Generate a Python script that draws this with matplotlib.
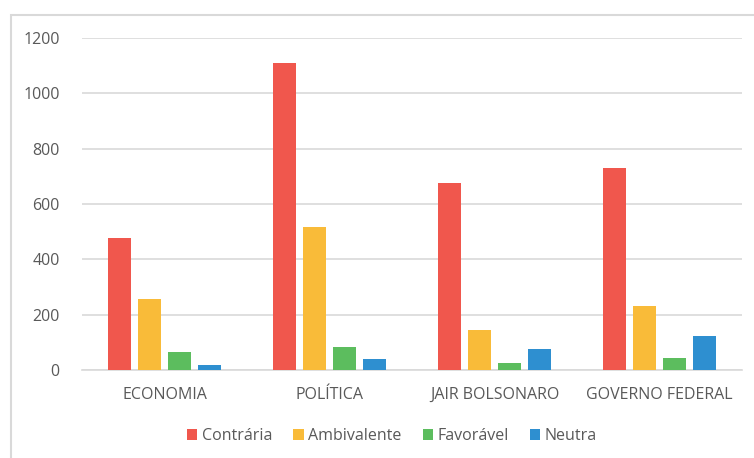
import numpy as np
import matplotlib
matplotlib.use('Agg')
import matplotlib.pyplot as plt
from matplotlib.patches import Rectangle

plt.rcParams['font.family'] = ['Open Sans', 'DejaVu Sans']

categorias = ['ECONOMIA', 'POLÍTICA', 'JAIR BOLSONARO', 'GOVERNO FEDERAL']
series = ['Contrária', 'Ambivalente', 'Favorável', 'Neutra']
contraria = [477, 1110, 677, 731]
ambivalente = [257, 517, 143, 231]
favoravel = [65, 83, 24, 42]
neutra = [18, 40, 75, 123]
cores = ['#f0574d', '#f9bb39', '#5cbd5e', '#2e8fd0']

W, H = 754, 458
fig = plt.figure(figsize=(W / 100, H / 100), dpi=100)
# moldura cinza clara
fig.patches.append(Rectangle((11 / W, -0.05), 1.2, 1 - 15 / H + 0.05,
                             transform=fig.transFigure, fill=False,
                             edgecolor='#d9d9d9', linewidth=1.5))

ax = fig.add_axes([82 / W, 1 - 370 / H, (742 - 82) / W, (370 - 38) / H])

x = np.arange(len(categorias))
passo = 30 / 165
larg = 23 / 165
valores = [contraria, ambivalente, favoravel, neutra]
for i, (nome, v) in enumerate(zip(series, valores)):
    ax.bar(x + (i - 1.5) * passo, v, width=larg, color=cores[i], label=nome, zorder=3)

ax.set_xlim(-0.5, 3.5)
ax.set_ylim(0, 1200)
ax.set_yticks(range(0, 1201, 200))
ax.grid(axis='y', color='#d9d9d9', linewidth=1.2, zorder=0)
for s in ['top', 'right', 'left']:
    ax.spines[s].set_visible(False)
ax.spines['bottom'].set_color('#d9d9d9')
ax.spines['bottom'].set_linewidth(1.2)
ax.tick_params(axis='both', length=0, colors='#595959', labelsize=11.5)
ax.tick_params(axis='y', pad=16)
ax.tick_params(axis='x', pad=12)
ax.set_xticks(x)
ax.set_xticklabels(categorias)

fig.legend(loc='center', bbox_to_anchor=(392 / W, 1 - 436 / H), ncol=4, frameon=False,
           fontsize=11.5, labelcolor='#595959', handlelength=0.65, handleheight=0.65,
           handletextpad=0.3, columnspacing=1.3)

fig.savefig('out.png', dpi=100)
